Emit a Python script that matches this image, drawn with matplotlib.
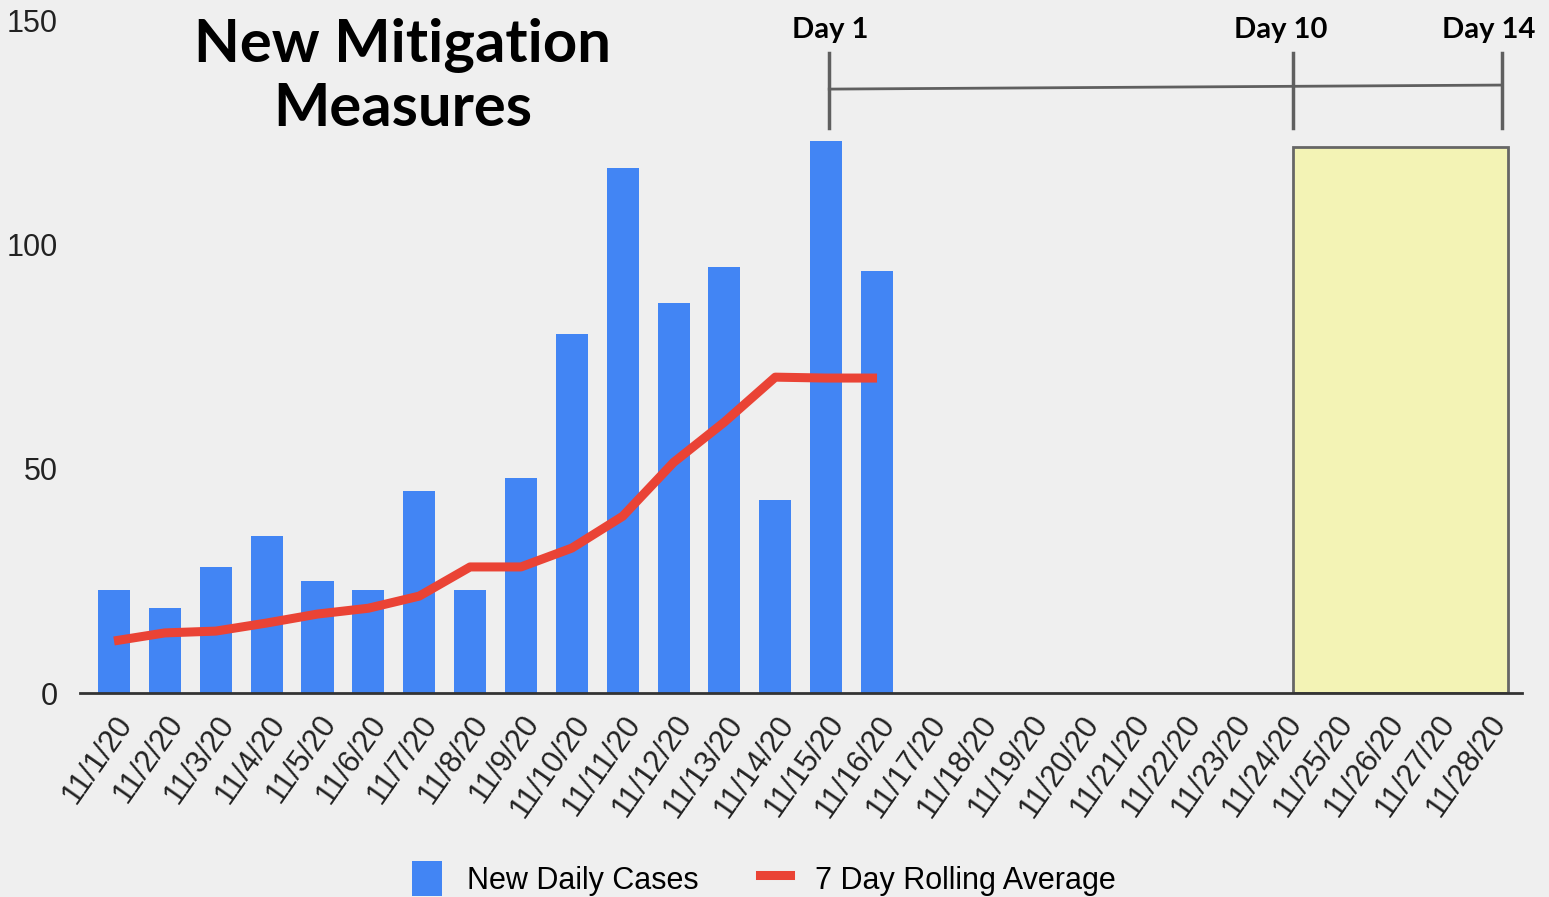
import matplotlib.pyplot as plt
import numpy as np
from matplotlib.patches import Rectangle
from matplotlib.lines import Line2D
from matplotlib.patches import Patch

# Datos
fechas = [f'11/{d}/20' for d in range(1, 29)]
casos_diarios = [23, 19, 28, 35, 25, 23, 45, 23, 48, 80, 117, 87, 95, 43, 123, 94]
promedio_7d = [11.6, 13.4, 13.8, 15.6, 17.6, 18.9, 21.6, 28.1, 28.1, 32.3,
               39.4, 51.4, 60.4, 70.4, 70.2, 70.2]

# Anotaciones: posiciones de los días (índice de categoría)
dia_labels = ['Day 1', 'Day 10', 'Day 14']
dia_pos = [14.06, 23.18, 27.28]
dia_texto_x = [830, 1281, 1489]  # px
caja_x = (23.18, 27.4)
caja_top = 121.8

fondo = '#efefef'
azul = '#4285f4'
rojo = '#ea4335'
gris = '#5f5f5f'

plt.rcParams['font.family'] = ['Liberation Sans', 'DejaVu Sans']

fig = plt.figure(figsize=(15.49, 8.97), dpi=100, facecolor=fondo)
ax = fig.add_axes([0.0516, 0.2274, 0.931, 0.7503])
ax.set_facecolor(fondo)

x = np.arange(len(fechas))
n = len(casos_diarios)
ax.bar(x[:n], casos_diarios, width=0.63, color=azul, zorder=2)
ax.plot(x[:n], promedio_7d, color=rojo, linewidth=6.5, solid_joinstyle='round',
        solid_capstyle='butt', zorder=3)

# Caja amarilla (días 10 a 14)
ax.add_patch(Rectangle((caja_x[0], 0), caja_x[1] - caja_x[0], caja_top,
                       facecolor='#f3f3b5', edgecolor='#666666', linewidth=2, zorder=1))

# Línea de tiempo superior
for p in dia_pos:
    ax.plot([p, p], [126, 142.6], color=gris, linewidth=2.5, zorder=4, clip_on=False)
ax.plot([dia_pos[0], dia_pos[2]], [134.6, 135.5], color=gris, linewidth=2, zorder=4, clip_on=False)
for lab, px in zip(dia_labels, dia_texto_x):
    fig.text(px / 1549, 1 - 30 / 897, lab, ha='center', va='center',
             fontsize=21, fontweight='bold', family=['Lato', 'DejaVu Sans'])

# Título
fig.text(403 / 1549, 1 - 77 / 897, 'New Mitigation\nMeasures', ha='center', va='center',
         fontsize=43, fontweight='bold', linespacing=1.2, family=['Lato', 'DejaVu Sans'])

ax.set_xlim(-0.67, 27.68)
ax.set_ylim(0, 150)
ax.set_yticks([0, 50, 100, 150])
ax.set_xticks(x)
ax.set_xticklabels(fechas, rotation=55, ha='right', rotation_mode='anchor')
ax.tick_params(axis='both', length=0, labelsize=22, colors='#222222')
ax.tick_params(axis='x', pad=12)
ax.tick_params(axis='y', pad=16)
for s in ['top', 'right', 'left']:
    ax.spines[s].set_visible(False)
ax.spines['bottom'].set_color('#333333')
ax.spines['bottom'].set_linewidth(2)
ax.spines['bottom'].set_zorder(5)

handles = [Patch(facecolor=azul, edgecolor='none'),
           Line2D([0], [0], color=rojo, linewidth=6.5)]
fig.legend(handles, ['New Daily Cases', '7 Day Rolling Average'], loc='lower center',
           bbox_to_anchor=(0.493, -0.03), ncol=2, frameon=False, fontsize=22,
           handlelength=1.0, handleheight=1.4, columnspacing=2.0, handletextpad=0.8)

plt.savefig('out.png', dpi=100, facecolor=fondo)
